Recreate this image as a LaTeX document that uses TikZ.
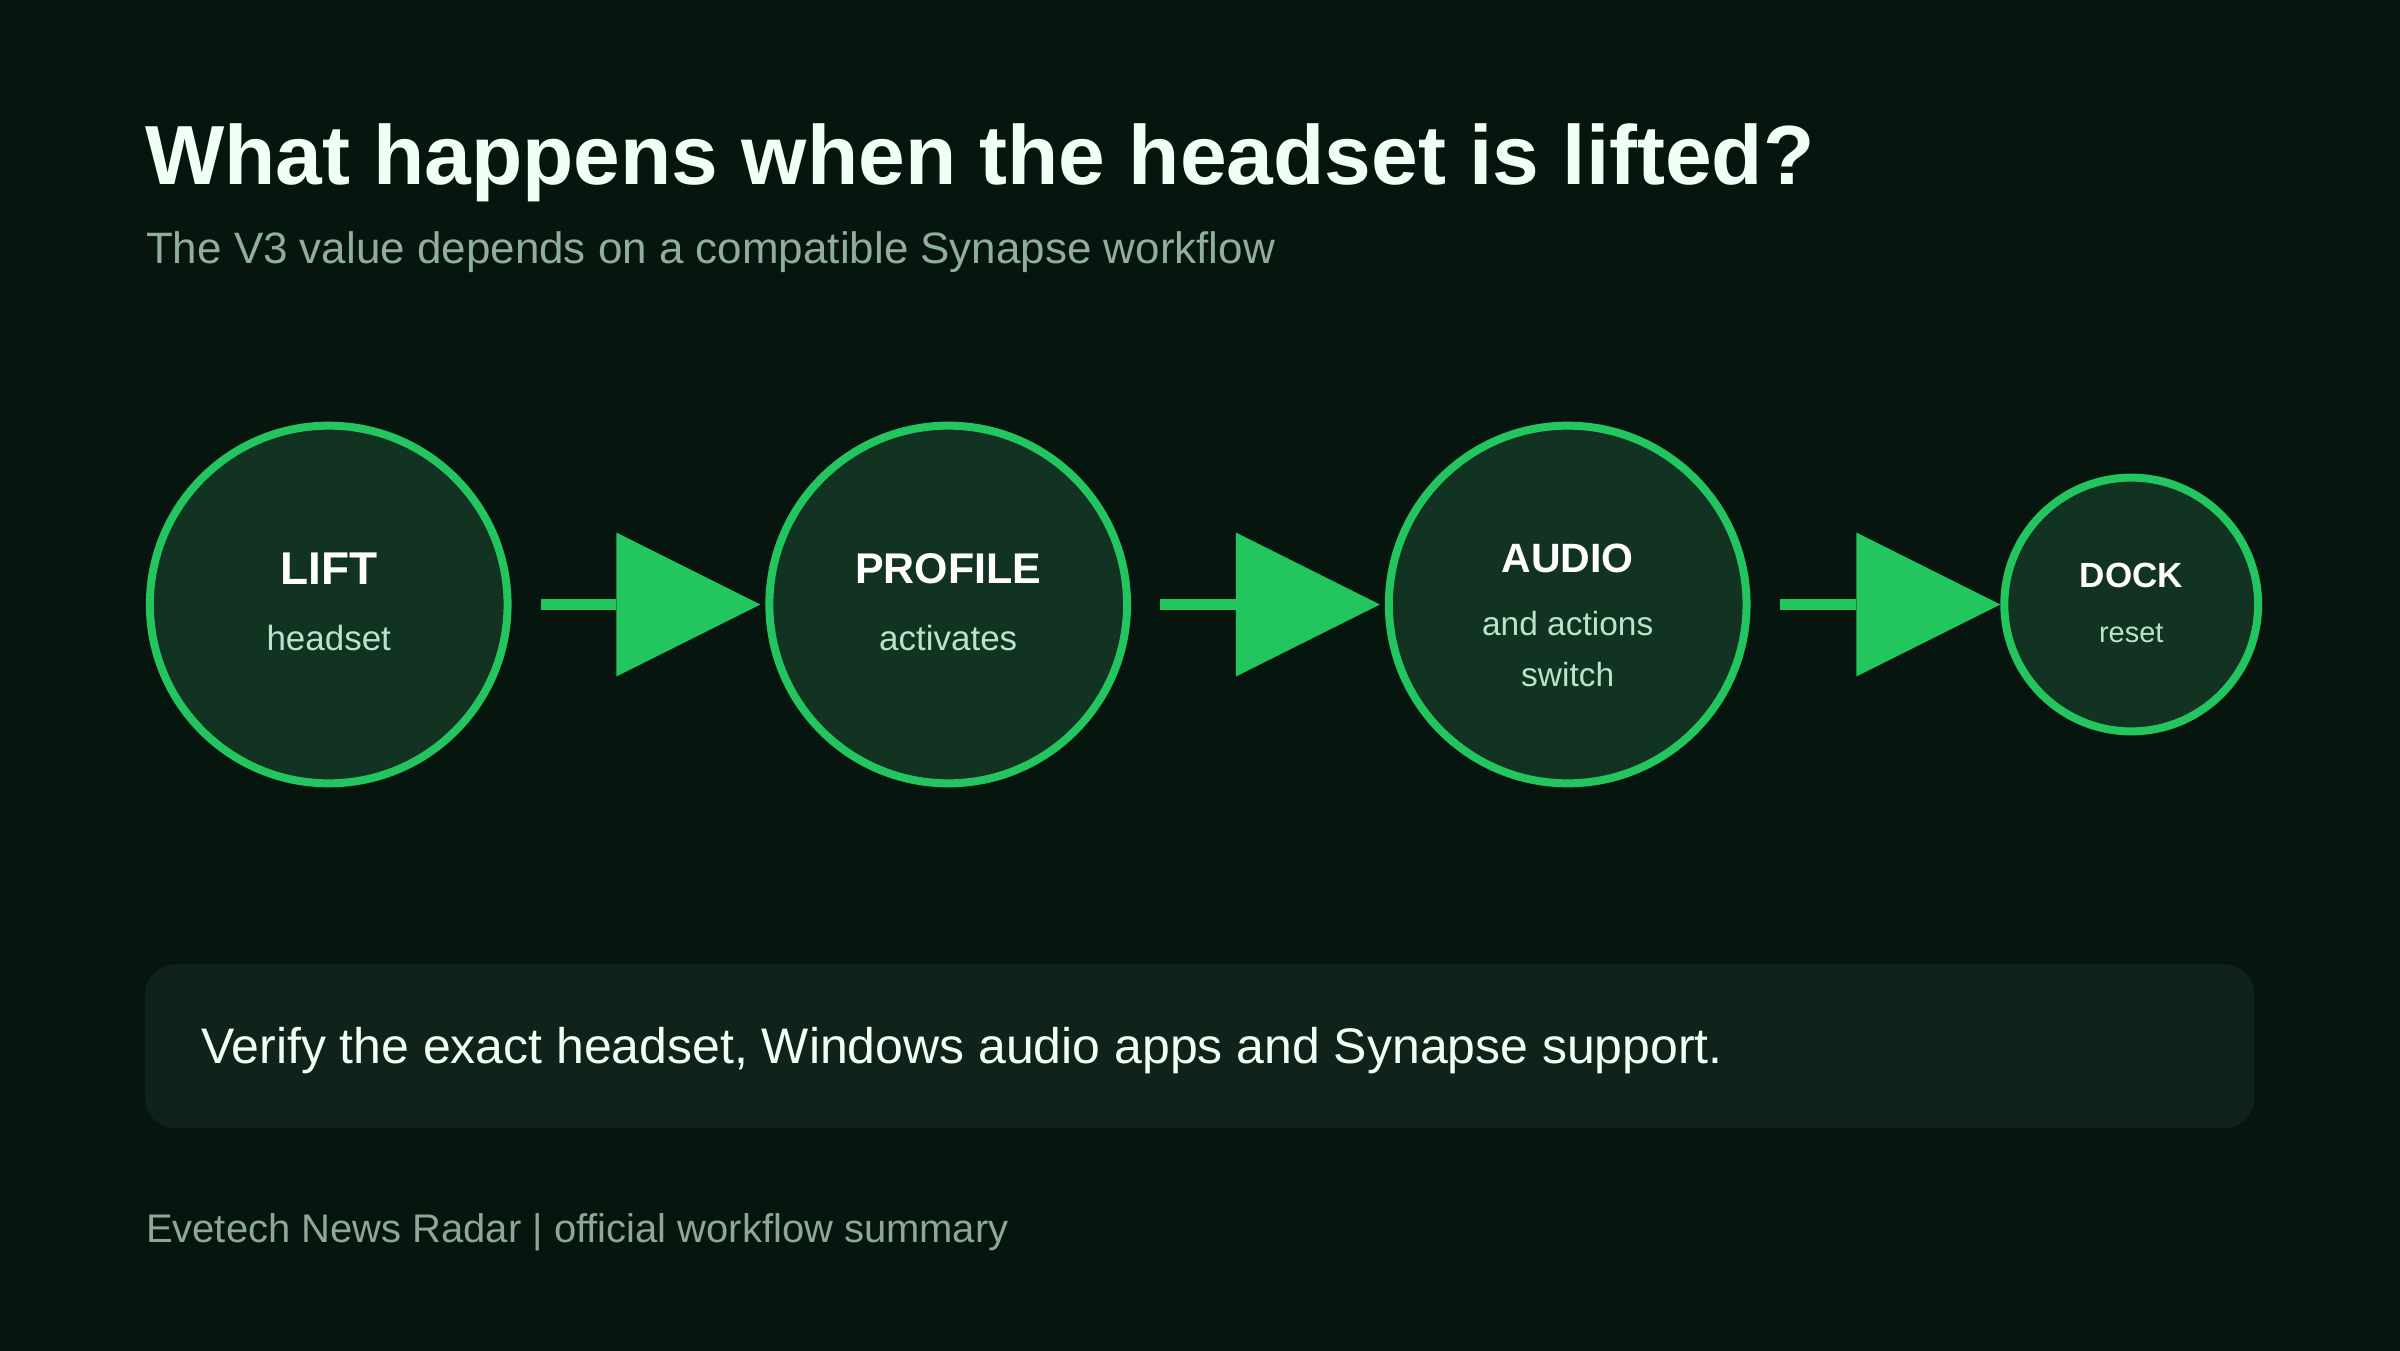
\documentclass[tikz,border=0pt]{standalone}
\usepackage{fontspec}
\setmainfont{Liberation Sans}
\usetikzlibrary{arrows.meta}
\definecolor{bg}{HTML}{07150F}
\definecolor{cfill}{HTML}{123222}
\definecolor{accent}{HTML}{22C55E}
\definecolor{titlec}{HTML}{F2FFF6}
\definecolor{subc}{HTML}{8FAE9D}
\definecolor{smallc}{HTML}{B9E4C9}
\definecolor{boxc}{HTML}{0F231B}
\definecolor{footc}{HTML}{8CA898}
\newcommand{\fs}[1]{\fontsize{#1}{#1}\selectfont}
\tikzset{
  stage/.style={circle, draw=accent, fill=cfill, line width=8pt, inner sep=0pt},
  bigstage/.style={stage, minimum size=358pt},
  smallstage/.style={stage, minimum size=254pt},
  head/.style={anchor=base, inner sep=0pt, text=white, font=\bfseries},
  sub/.style={anchor=base, inner sep=0pt, text=smallc},
  conn/.style={draw=accent, line width=12pt,
    -{Triangle[length=144pt, width=144pt, line width=0pt, fill=accent]}},
  txt/.style={anchor=base west, inner sep=0pt}
}
\begin{document}
\begin{tikzpicture}[x=1pt, y=-1pt]
\fill[bg] (-1,-1) rectangle (2401,1351);
\useasboundingbox (0,0) rectangle (2400,1350);

\node[txt, text=titlec, font=\fs{84}\bfseries] (title) at (144,184) {What happens when the headset is lifted?};
\node[txt, text=subc, font=\fs{44}] (subtitle) at (145,263) {The V3 value depends on a compatible Synapse workflow};

\node[bigstage] (lift) at (328,604) {};
\node[bigstage] (profile) at (948,604) {};
\node[bigstage] (audio) at (1568,604) {};
\node[smallstage] (dock) at (2132,604) {};

\node[head, font=\fs{46}\bfseries] (liftT) at (328,584) {LIFT};
\node[sub, font=\fs{35}] (liftS) at (328,650) {headset};
\node[head, font=\fs{43}\bfseries] (profT) at (948,583) {PROFILE};
\node[sub, font=\fs{35}] (profS) at (948,650) {activates};
\node[head, font=\fs{41}\bfseries] (audT) at (1568,572) {AUDIO};
\node[sub, font=\fs{33.5}] (audS1) at (1568,635) {and actions};
\node[sub, font=\fs{33.5}] (audS2) at (1568,686) {switch};
\node[head, font=\fs{35}\bfseries] (dockT) at (2132,587) {DOCK};
\node[sub, font=\fs{29}] (dockS) at (2132,642) {reset};

\draw[conn, shorten <=29pt, shorten >=5pt] (lift) -- (profile);
\draw[conn, shorten <=29pt, shorten >=5pt] (profile) -- (audio);
\draw[conn, shorten <=29pt, shorten >=0pt] (audio) -- (dock);

\node[fill=boxc, rounded corners=30pt, minimum width=2111pt, minimum height=164pt, inner sep=0pt, anchor=north west] (note) at (144,964) {};
\node[txt, text=titlec, font=\fs{50}] (noteT) at (200,1063) {Verify the exact headset, Windows audio apps and Synapse support.};

\node[txt, text=footc, font=\fs{40}] (footer) at (145,1243) {Evetech News Radar | official workflow summary};
\end{tikzpicture}
\end{document}
